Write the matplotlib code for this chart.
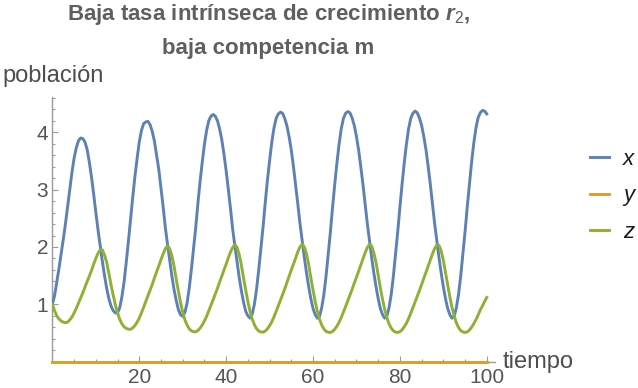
import numpy as np
import matplotlib
matplotlib.use("Agg")
import matplotlib.pyplot as plt
from matplotlib.ticker import MultipleLocator, FixedLocator
from matplotlib.lines import Line2D

plt.rcParams['font.family'] = ['Liberation Sans', 'DejaVu Sans']
plt.rcParams['mathtext.fontset'] = 'custom'
plt.rcParams['mathtext.rm'] = 'Liberation Sans'
plt.rcParams['mathtext.it'] = 'Liberation Sans:italic:bold'
plt.rcParams['mathtext.bf'] = 'Liberation Sans:bold'

# sample times (every half unit of tiempo)
tiempo = np.arange(0, 100.5, 0.5)

# x population
x_vals = [
    1.00, 1.15, 1.38, 1.62, 1.87, 2.13, 2.40, 2.70, 3.00, 3.30,
    3.55, 3.73, 3.85, 3.90, 3.89, 3.83, 3.70, 3.48, 3.22, 2.92,
    2.60, 2.30, 2.02, 1.75, 1.50, 1.28, 1.10, 0.97, 0.89, 0.85,
    0.85, 0.94, 1.13, 1.39, 1.73, 2.10, 2.49, 2.87, 3.23, 3.54,
    3.83, 4.03, 4.15, 4.18, 4.19, 4.13, 4.01, 3.84, 3.60, 3.35,
    3.02, 2.70, 2.34, 2.05, 1.78, 1.50, 1.26, 1.07, 0.91, 0.82,
    0.79, 0.86, 1.02, 1.28, 1.61, 1.97, 2.34, 2.76, 3.14, 3.48,
    3.79, 4.03, 4.20, 4.28, 4.31, 4.28, 4.20, 4.06, 3.87, 3.62,
    3.33, 3.01, 2.67, 2.31, 2.03, 1.74, 1.47, 1.24, 1.04, 0.88,
    0.80, 0.76, 0.83, 1.00, 1.26, 1.60, 1.97, 2.35, 2.77, 3.16,
    3.50, 3.82, 4.07, 4.24, 4.32, 4.35, 4.33, 4.24, 4.11, 3.92,
    3.69, 3.40, 3.08, 2.75, 2.41, 2.11, 1.82, 1.55, 1.31, 1.10,
    0.93, 0.82, 0.76, 0.79, 0.94, 1.17, 1.49, 1.87, 2.26, 2.69,
    3.09, 3.46, 3.79, 4.06, 4.24, 4.33, 4.36, 4.34, 4.25, 4.12,
    3.93, 3.69, 3.40, 3.09, 2.75, 2.41, 2.11, 1.82, 1.55, 1.31,
    1.10, 0.93, 0.82, 0.76, 0.79, 0.94, 1.17, 1.49, 1.87, 2.26,
    2.69, 3.09, 3.46, 3.79, 4.06, 4.24, 4.33, 4.37, 4.34, 4.25,
    4.12, 3.93, 3.70, 3.41, 3.10, 2.75, 2.41, 2.11, 1.82, 1.55,
    1.31, 1.10, 0.93, 0.82, 0.76, 0.79, 0.94, 1.17, 1.49, 1.87,
    2.26, 2.69, 3.09, 3.47, 3.80, 4.07, 4.25, 4.34, 4.38, 4.37,
    4.32,
]

# y population dies out (lies on the time axis)
y_vals = [0.0] * len(x_vals)

# z population
z_vals = [
    1.00, 0.89, 0.80, 0.745, 0.71, 0.69, 0.68, 0.69, 0.73, 0.78,
    0.85, 0.93, 1.02, 1.11, 1.20, 1.30, 1.40, 1.49, 1.59, 1.70,
    1.80, 1.89, 1.95, 1.95, 1.86, 1.73, 1.54, 1.34, 1.16, 0.99,
    0.85, 0.74, 0.66, 0.61, 0.58, 0.567, 0.565, 0.59, 0.63, 0.69,
    0.76, 0.85, 0.95, 1.05, 1.15, 1.25, 1.35, 1.46, 1.57, 1.67,
    1.78, 1.88, 1.97, 2.02, 1.97, 1.85, 1.67, 1.44, 1.23, 1.03,
    0.865, 0.73, 0.64, 0.574, 0.537, 0.523, 0.52, 0.544, 0.585, 0.64,
    0.71, 0.79, 0.885, 0.985, 1.08, 1.18, 1.28, 1.39, 1.49, 1.60,
    1.70, 1.81, 1.91, 1.99, 2.04, 1.995, 1.87, 1.69, 1.46, 1.25,
    1.05, 0.88, 0.744, 0.645, 0.576, 0.535, 0.518, 0.515, 0.533, 0.572,
    0.627, 0.693, 0.779, 0.873, 0.972, 1.07, 1.17, 1.27, 1.38, 1.49,
    1.60, 1.70, 1.81, 1.915, 2.00, 2.05, 2.00, 1.88, 1.70, 1.46,
    1.25, 1.05, 0.88, 0.74, 0.64, 0.57, 0.53, 0.513, 0.51, 0.528,
    0.565, 0.62, 0.686, 0.77, 0.863, 0.961, 1.06, 1.16, 1.26, 1.37,
    1.47, 1.58, 1.685, 1.79, 1.90, 1.99, 2.045, 2.016, 1.90, 1.735,
    1.51, 1.29, 1.09, 0.913, 0.769, 0.661, 0.585, 0.538, 0.516, 0.51,
    0.522, 0.556, 0.609, 0.669, 0.752, 0.843, 0.941, 1.041, 1.14, 1.24,
    1.345, 1.45, 1.557, 1.663, 1.77, 1.88, 1.973, 2.035, 2.027, 1.935,
    1.77, 1.557, 1.334, 1.129, 0.946, 0.796, 0.679, 0.596, 0.544, 0.518,
    0.51, 0.52, 0.55, 0.60, 0.66, 0.73, 0.81, 0.90, 0.97, 1.05,
    1.12,
]

x_ticks = [20, 40, 60, 80, 100]
y_ticks = [1, 2, 3, 4]
series_names = ['x', 'y', 'z']
colors = ['#5E81B5', '#E19C24', '#8FB032']

W, H = 638, 388
fig = plt.figure(figsize=(W / 100, H / 100), dpi=100)
ax = fig.add_axes([52.4 / W, 26.3 / H, (495 - 52.4) / W, (361.7 - 96.7) / H])

lw = 2.1
ax.plot(tiempo, x_vals, color=colors[0], lw=lw, zorder=3)
ax.plot(tiempo, y_vals, color=colors[1], lw=lw, zorder=4, clip_on=False)
ax.plot(tiempo, z_vals, color=colors[2], lw=lw, zorder=5)

ax.set_xlim(0, 101.9)
ax.set_ylim(0, 4.62)

for s in ['top', 'right']:
    ax.spines[s].set_visible(False)
for s in ['left', 'bottom']:
    ax.spines[s].set_color('#9a9a9a')
    ax.spines[s].set_linewidth(1.0)

ax.xaxis.set_major_locator(FixedLocator(x_ticks))
ax.xaxis.set_minor_locator(MultipleLocator(5))
ax.yaxis.set_major_locator(FixedLocator(y_ticks))
ax.yaxis.set_minor_locator(MultipleLocator(0.2))
ax.tick_params(which='both', direction='in', color='#9a9a9a', width=0.8,
               labelsize=15, labelcolor='#555555')
ax.tick_params(which='major', length=4.2)
ax.tick_params(which='minor', length=2.4)
ax.tick_params(axis='x', pad=4.5)
ax.tick_params(axis='y', pad=3.0)

fig.text(2 / W, 1 - 82 / H, 'población', fontsize=17, color='#4d4d4d',
         ha='left', va='baseline')
fig.text(503 / W, 1 - 368 / H, 'tiempo', fontsize=17, color='#4d4d4d',
         ha='left', va='baseline')

fig.text(268.5 / W, 1 - 20 / H, 'Baja tasa intrínseca de crecimiento $r_2$,',
         fontsize=16, fontweight='bold', color='#5f5f5f', ha='center', va='baseline')
fig.text(268.5 / W, 1 - 54 / H, 'baja competencia m',
         fontsize=16, fontweight='bold', color='#5f5f5f', ha='center', va='baseline')

handles = [Line2D([], [], color=c, lw=lw) for c in colors]
fig.legend(handles, series_names, loc='center left',
           bbox_to_anchor=(590 / W, 1 - 196 / H), frameon=False,
           borderpad=0, borderaxespad=0, handlelength=0.85, handletextpad=0.65,
           labelspacing=0.7, prop={'size': 16, 'style': 'italic'},
           labelcolor='#1a1a1a')

fig.savefig('out.png', dpi=100)
